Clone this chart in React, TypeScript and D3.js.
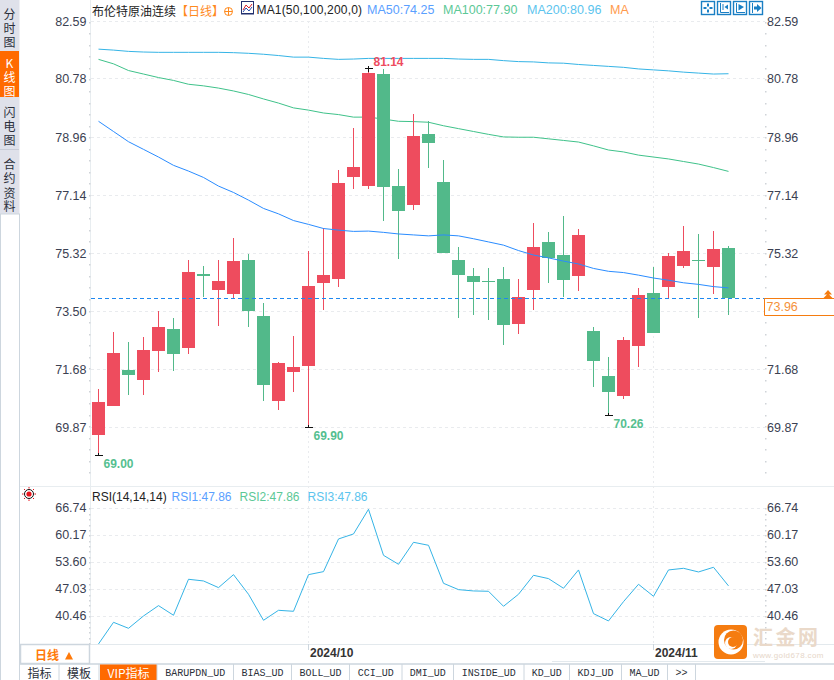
import React from 'react';
import * as d3 from 'd3';

// trading days shown in the chart
const dates = [
  '09-11','09-12','09-13','09-16','09-17','09-18','09-19','09-20','09-23','09-24','09-25','09-26','09-27','09-30',
  '10-01','10-02','10-03','10-04','10-07','10-08','10-09','10-10','10-11','10-14','10-15','10-16','10-17','10-18',
  '10-21','10-22','10-23','10-24','10-25','10-28','10-29','10-30','10-31',
  '11-01','11-04','11-05','11-06','11-07','11-08',
];
const opens = [69.64,70.55,71.68,71.37,72.27,72.96,72.37,74.69,74.18,74.06,75.12,73.37,70.71,71.62,71.80,74.40,74.53,77.72,77.44,80.95,77.44,76.85,79.07,77.57,75.12,74.62,74.47,74.53,73.12,74.18,75.69,75.28,74.62,72.90,71.49,70.86,72.43,74.09,74.28,74.94,75.12,74.91,75.50];
const closes = [70.68,72.21,71.52,72.30,73.03,72.18,74.75,74.62,74.47,75.09,73.53,71.21,71.90,71.77,74.31,74.65,77.54,78.04,80.98,77.41,76.66,79.01,78.79,75.34,74.65,74.44,74.44,73.09,73.97,75.53,75.19,74.50,75.91,71.96,70.99,72.62,74.03,72.84,75.25,75.41,75.09,75.47,73.92];
const highs = [71.07,72.87,72.56,72.71,73.53,73.31,75.12,74.94,75.12,75.81,75.31,73.78,71.93,72.74,75.41,76.13,77.94,79.26,81.14,81.11,77.98,79.70,79.48,78.26,75.53,74.87,74.87,74.91,74.53,76.28,76.00,76.50,76.10,73.03,72.09,72.71,74.25,74.91,75.34,76.19,75.94,76.03,75.56];
const lows = [69.00,70.55,70.90,70.90,71.62,71.65,72.18,73.97,73.06,73.90,73.03,70.71,70.43,70.99,69.90,73.56,74.28,77.35,77.35,76.35,75.16,76.69,78.01,75.34,73.31,73.40,73.24,72.46,72.81,73.56,74.40,73.97,74.15,71.15,70.26,70.77,71.77,72.84,73.93,74.87,73.31,74.06,73.40];

const ma50 = [79.47,79.15,78.83,78.59,78.35,78.09,77.91,77.71,77.44,77.24,77.00,76.74,76.57,76.36,76.24,76.11,76.06,76.02,76.03,75.99,75.94,75.91,75.88,75.91,75.88,75.79,75.69,75.59,75.42,75.28,75.19,75.09,75.00,74.86,74.77,74.73,74.65,74.56,74.49,74.41,74.36,74.29,74.25];
const ma100 = [81.41,81.27,81.06,80.95,80.84,80.75,80.63,80.58,80.51,80.42,80.31,80.17,80.04,79.89,79.82,79.73,79.68,79.60,79.60,79.54,79.47,79.46,79.44,79.33,79.24,79.15,79.06,78.98,78.97,78.97,78.92,78.87,78.82,78.70,78.57,78.51,78.41,78.35,78.29,78.21,78.13,78.02,77.90];
const ma200 = [81.73,81.70,81.66,81.64,81.63,81.63,81.63,81.63,81.63,81.62,81.60,81.57,81.53,81.48,81.48,81.44,81.41,81.42,81.44,81.44,81.44,81.44,81.44,81.44,81.42,81.41,81.41,81.37,81.34,81.33,81.30,81.29,81.25,81.22,81.19,81.16,81.11,81.08,81.05,81.01,80.98,80.95,80.96];
const rsi = [33.73,39.00,37.54,40.54,43.06,40.71,49.47,49.06,47.44,50.60,45.82,39.49,41.92,41.68,50.60,51.33,59.28,60.50,66.50,55.30,53.12,58.47,57.74,48.49,46.95,46.63,46.55,42.90,45.82,50.44,49.63,47.28,51.74,41.11,39.33,44.03,48.25,45.33,51.74,52.14,51.25,52.39,47.86];

const priceTicks = [82.59, 80.78, 78.96, 77.14, 75.32, 73.5, 71.68, 69.87];
const rsiTicks = [66.74, 60.17, 53.6, 47.03, 40.46];
const monthTicks = [['10-01', '2024/10'], ['11-01', '2024/11']];
const extremes = [
  { date: '09-11', value: 69.0, label: '69.00', color: '#55bf90', dx: 5, dy: 8 },
  { date: '10-01', value: 69.9, label: '69.90', color: '#55bf90', dx: 5, dy: 8 },
  { date: '10-29', value: 70.26, label: '70.26', color: '#55bf90', dx: 5, dy: 8 },
  { date: '10-07', value: 81.14, label: '81.14', color: '#ee4c5e', dx: 5, dy: -7 },
];
const lastPrice = 73.96;
const sideTabs = [
  { chars: '分时图', ys: [13, 27, 41], on: false },
  { chars: 'K线图', ys: [62, 76, 90], on: true },
  { chars: '闪电图', ys: [111, 125, 139], on: false },
  { chars: '合约资料', ys: [163, 177, 192, 205], on: false },
];
const bottomTabs = [
  ['指标', 20, 59], ['模板', 59, 99], ['VIP指标', 100, 157], ['BARUPDN_UD', 157, 233.5], ['BIAS_UD', 233.5, 291.5],
  ['BOLL_UD', 291.5, 349.5], ['CCI_UD', 349.5, 402], ['DMI_UD', 402, 453.5], ['INSIDE_UD', 453.5, 524],
  ['KD_UD', 524, 569.5], ['KDJ_UD', 569.5, 621.5], ['MA_UD', 621.5, 667.5], ['>>', 667.5, 695.5],
] as [string, number, number][];

const UP = '#ee4c5e';
const DOWN = '#52b98a';
const SANS = '"Liberation Sans", Arial, sans-serif';
const CJK = '"Noto Sans CJK SC", sans-serif';
const AXIS_TEXT = '#3b4152';
const GRID = '#e9ebee';
const LINE = '#cdd6de';

const x = d3.scalePoint<string>().domain(dates).range([98.5, 728.5]);
const y = d3.scaleLinear().domain([69.87, 82.59]).range([427.7, 21.7]);
const yRsi = d3.scaleLinear().domain([40.46, 66.74]).range([616.3, 508.3]);

function linePath(values: number[], scale: d3.ScaleLinear<number, number>) {
  return d3.line<number>().x((_, i) => x(dates[i]) as number).y(v => scale(v))(values) as string;
}

// 5 divisions between neighbouring labels, the dots on the axis lines
function minorTicks(ticks: number[], scale: d3.ScaleLinear<number, number>, bottom: number) {
  const step = (scale(ticks[1]) - scale(ticks[0])) / 5;
  const out: number[] = [];
  for (let p = scale(ticks[0]); p < bottom; p += step) out.push(p);
  return out;
}

function ToolIcon({ left, kind }: { left: number; kind: number }) {
  const c = '#1a7fc4';
  return (
    <g transform={`translate(${left},1)`} fill={c} stroke={c}>
      <rect x={0.5} y={0.5} width={13} height={13} fill="#fff" strokeWidth={1.4} />
      {kind === 0 && (
        <g stroke="none">
          <rect x={6} y={2.5} width={2} height={3} /><rect x={6} y={8.5} width={2} height={3} />
          <rect x={2.5} y={6} width={3} height={2} /><rect x={8.5} y={6} width={3} height={2} />
        </g>
      )}
      {kind === 1 && (
        <g strokeWidth={1}>
          <path d="M3.5 2V11.5H12M6 3V9" fill="none" />
          <path d="M11 3.5V8.5L7.5 6Z" stroke="none" />
        </g>
      )}
      {kind === 2 && (
        <g strokeWidth={1}>
          <path d="M3.5 2V11.5H12" fill="none" />
          <path d="M5.5 3V9.5L11 6Z" stroke="none" />
        </g>
      )}
      {kind === 3 && (
        <g strokeWidth={1}>
          <path d="M3.5 2V12" fill="none" />
          <path d="M5 5.5H8V3L12.5 7L8 11V8.5H5Z" stroke="none" />
        </g>
      )}
    </g>
  );
}

export default function App() {
  const priceMinor = minorTicks(priceTicks, y, 478);
  const rsiMinor = minorTicks(rsiTicks, yRsi, 644);
  const legendY = 10;
  const rsiLegendY = 497;
  const lastY = Math.round(y(closes[closes.length - 1])) + 0.5;

  return (
    <svg width={834} height={680} style={{ position: 'absolute', left: 0, top: 0, background: '#fff' }}>
      {/* left tabs */}
      <rect x={0} y={0} width={19.5} height={214} fill="#dfe1ea" />
      <rect x={0} y={51} width={19} height={46} fill="#ff6a00" />
      <line x1={0} x2={19} y1={149.5} y2={149.5} stroke="#c9ccd6" />
      <path d="M0.5 214V680M19.5 214V680M0 214H20" fill="none" stroke={LINE} />
      {sideTabs.map(t =>
        Array.from(t.chars).map((ch, i) => (
          <text key={t.chars + i} x={9.5} y={t.ys[i]} textAnchor="middle" dominantBaseline="central"
            fontFamily={CJK} fontSize={12} fill={t.on ? '#fff' : '#2b2f3a'}>{ch}</text>
        ))
      )}

      {/* frame */}
      <line x1={20} x2={834} y1={486.5} y2={486.5} stroke="#e8edf0" />
      <line x1={90.5} x2={90.5} y1={0} y2={644} stroke="#e8edf0" />
      <line x1={90} x2={834} y1={644.5} y2={644.5} stroke="#e3e9ed" />
      <line x1={552} x2={765} y1={661.5} y2={661.5} stroke="#e3e9ed" />
      <line x1={20} x2={834} y1={664} y2={664} stroke={LINE} strokeWidth={1.5} />

      {/* grid */}
      {priceTicks.map(t => (
        <line key={t} x1={91} x2={765} y1={Math.round(y(t)) - 0.5} y2={Math.round(y(t)) - 0.5} stroke={GRID} strokeDasharray="3 3" />
      ))}
      {rsiTicks.map(t => (
        <line key={t} x1={91} x2={765} y1={Math.round(yRsi(t)) + 0.5} y2={Math.round(yRsi(t)) + 0.5} stroke={GRID} strokeDasharray="3 3" />
      ))}
      {monthTicks.map(([d]) => (
        <g key={d}>
          <line x1={(x(d) as number)} x2={(x(d) as number)} y1={21} y2={644} stroke={GRID} strokeDasharray="2 3" />
          <line x1={(x(d) as number)} x2={(x(d) as number)} y1={644} y2={650} stroke="#cdd6de" />
        </g>
      ))}

      {/* axis dots */}
      {[...priceMinor, ...rsiMinor].map((p, i) => (
        <g key={i} fill="#cfd3d8">
          <rect x={89} y={Math.round(p)} width={1.5} height={1.5} />
          <rect x={765} y={Math.round(p)} width={1.5} height={1.5} />
        </g>
      ))}

      {/* axis labels, the last price tag takes the place of 73.50 on the right */}
      {priceTicks.map(t => (
        <g key={t} fontFamily={SANS} fontSize={12.5} fill={AXIS_TEXT} dominantBaseline="central">
          <text x={86.5} y={y(t)} textAnchor="end">{t.toFixed(2)}</text>
          {t !== 73.5 && <text x={767} y={y(t)}>{t.toFixed(2)}</text>}
        </g>
      ))}
      {rsiTicks.map(t => (
        <g key={t} fontFamily={SANS} fontSize={12.5} fill={AXIS_TEXT} dominantBaseline="central">
          <text x={86.5} y={yRsi(t)} textAnchor="end">{t.toFixed(2)}</text>
          <text x={767} y={yRsi(t)}>{t.toFixed(2)}</text>
        </g>
      ))}

      {/* moving averages */}
      <path d={linePath(ma200, y)} fill="none" stroke="#35b4e6" strokeWidth={1} />
      <path d={linePath(ma100, y)} fill="none" stroke="#3fc28a" strokeWidth={1} />

      {/* candles */}
      {dates.map((d, i) => {
        const cx = x(d) as number;
        const up = closes[i] >= opens[i];
        const color = up ? UP : DOWN;
        const top = y(Math.max(opens[i], closes[i]));
        const bottom = y(Math.min(opens[i], closes[i]));
        return (
          <g key={d} shapeRendering="crispEdges">
            <line x1={cx} x2={cx} y1={y(highs[i])} y2={y(lows[i])} stroke={color} />
            <rect x={cx - 6.5} y={top} width={13} height={Math.max(1, bottom - top)} fill={color} />
          </g>
        );
      })}
      <path d={linePath(ma50, y)} fill="none" stroke="#2a8cff" strokeWidth={1} />

      {/* high and low marks */}
      {extremes.map(e => {
        const cx = x(e.date) as number;
        const py = Math.round(y(e.value)) + 0.5;
        return (
          <g key={e.label}>
            <path d={`M${cx - 3.5} ${py}H${cx + 4}M${cx} ${py - 3}V${py + (e.dy < 0 ? 3 : 0)}`} stroke="#111" fill="none" shapeRendering="crispEdges" />
            <text x={cx + e.dx} y={py + e.dy} dominantBaseline="central" fontFamily={SANS} fontWeight="bold" fontSize={12} fill={e.color}>{e.label}</text>
          </g>
        );
      })}

      {/* last price */}
      <line x1={91} x2={765} y1={lastY} y2={lastY} stroke="#1e88f0" strokeDasharray="4 3" />
      <path d={`M834 ${lastY}H764.5V${lastY + 17}H834`} fill="#fff" stroke="#f57c10" />
      <text x={766.5} y={lastY + 8.5} dominantBaseline="central" fontFamily={SANS} fontSize={12.5} fill="#f5913a">{lastPrice.toFixed(2)}</text>
      <path d="M828 290L832 294.5H824ZM828 293.5L832.5 298H823.5Z" fill="#f57c10" />

      {/* title row */}
      <text x={92} y={legendY} dominantBaseline="central" fontFamily={CJK} fontSize={12} fill="#222">布伦特原油连续</text>
      <text x={176} y={legendY} dominantBaseline="central" fontFamily={CJK} fontSize={12} fill="#ff8a1e">【日线】</text>
      <circle cx={228.5} cy={11.5} r={4} fill="none" stroke="#ff8a1e" />
      <path d="M224.5 11.5H232.5M228.5 7.5V15.5" stroke="#ff8a1e" />
      <g>
        <rect x={241.5} y={1.5} width={12} height={12} fill="#fff" stroke="#23306e" />
        <path d="M243 10L246 5L249 8L252 4" fill="none" stroke="#d8232a" />
        <path d="M243 12L246 8L249 11L252 7" fill="none" stroke="#2a4fb0" />
        <line x1={241} x2={254} y1={14} y2={14} stroke="#23306e" />
      </g>
      <g fontFamily={SANS} fontSize={12.5} dominantBaseline="central">
        <text x={256.5} y={legendY} fill="#222" fontSize={12} textLength={105.5}>MA1(50,100,200,0)</text>
        <text x={367} y={legendY} fill="#5aa0ff">MA50:74.25</text>
        <text x={443} y={legendY} fill="#5cc896">MA100:77.90</text>
        <text x={527} y={legendY} fill="#5cc4ee">MA200:80.96</text>
        <text x={610} y={legendY} fill="#ff9a4d">MA</text>
      </g>
      {[701, 717, 733, 749].map((left, k) => <ToolIcon key={left} left={left} kind={k} />)}

      {/* rsi pane */}
      <g transform="translate(29,494)">
        <circle r={4.5} fill="#fff" stroke="#111" />
        <circle r={2.6} fill="#e8141c" />
        <path d="M-7 0H-5.5M5.5 0H7M0 -7V-5.5M0 5.5V7M-5 -5L-4 -4M4 4L5 5M5 -5L4 -4M-4 4L-5 5" stroke="#e8141c" />
      </g>
      <g fontFamily={SANS} fontSize={12} dominantBaseline="central">
        <text x={92} y={rsiLegendY} fill="#222">RSI(14,14,14)</text>
        <text x={171.5} y={rsiLegendY} fill="#5aa0ff">RSI1:47.86</text>
        <text x={239.5} y={rsiLegendY} fill="#5cc896">RSI2:47.86</text>
        <text x={307.5} y={rsiLegendY} fill="#5cc4ee">RSI3:47.86</text>
      </g>
      <path d={linePath(rsi, yRsi)} fill="none" stroke="#35b4e6" strokeWidth={1} />

      {/* period box and date labels */}
      <rect x={20.5} y={644.5} width={69} height={19} fill="#fff" stroke={LINE} strokeWidth={1.5} />
      <text x={35} y={654.5} dominantBaseline="central" fontFamily={CJK} fontWeight="bold" fontSize={12} fill="#ff7a0a">日线</text>
      <path d="M69 652L73 659.5H65Z" fill="#ff7a0a" />
      {monthTicks.map(([d, label]) => (
        <text key={d} x={(x(d) as number) + 1.5} y={652.5} dominantBaseline="central" fontFamily={SANS} fontWeight="bold" fontSize={12} fill="#333">{label}</text>
      ))}

      {/* bottom tabs */}
      {bottomTabs.map(([label, from, to]) => {
        const vip = label.startsWith('VIP');
        const mid = (from + to) / 2;
        const latin = /^[A-Z_>]+$/.test(label);
        return (
          <g key={label}>
            {vip && <rect x={from} y={664.5} width={to - from} height={15.5} fill="#ff6a00" />}
            <line x1={to} x2={to} y1={664} y2={680} stroke={LINE} />
            {latin ? (
              <text x={mid} y={672.5} textAnchor="middle" dominantBaseline="central" fontFamily='"Liberation Mono", monospace'
                fontSize={11} textLength={label.length * 6} lengthAdjust="spacingAndGlyphs" fill="#2b2f3a">{label}</text>
            ) : (
              <text x={mid} y={672.5} textAnchor="middle" dominantBaseline="central" fontFamily={CJK} fontSize={12} fill={vip ? '#fff' : '#2b2f3a'}>{label}</text>
            )}
          </g>
        );
      })}

      {/* watermark */}
      <g>
        <rect x={714} y={625} width={33} height={34} rx={4} fill="#f57c10" />
        <circle cx={731} cy={642} r={12.5} fill="#fff" />
        <circle cx={733.5} cy={640} r={9.5} fill="#f57c10" />
        <circle cx={731} cy={643} r={6} fill="#fff" />
        <circle cx={733} cy={642} r={5} fill="#f57c10" />
        <text x={753} y={636.5} dominantBaseline="central" fontFamily={CJK} fontWeight="bold" fontSize={20} letterSpacing={2.5} fill="#ead9c9">汇金网</text>
        <text x={753} y={655} dominantBaseline="central" fontFamily={SANS} fontSize={8} letterSpacing={0.4} fill="#e6d6c8">www.gold678.com</text>
      </g>
    </svg>
  );
}
